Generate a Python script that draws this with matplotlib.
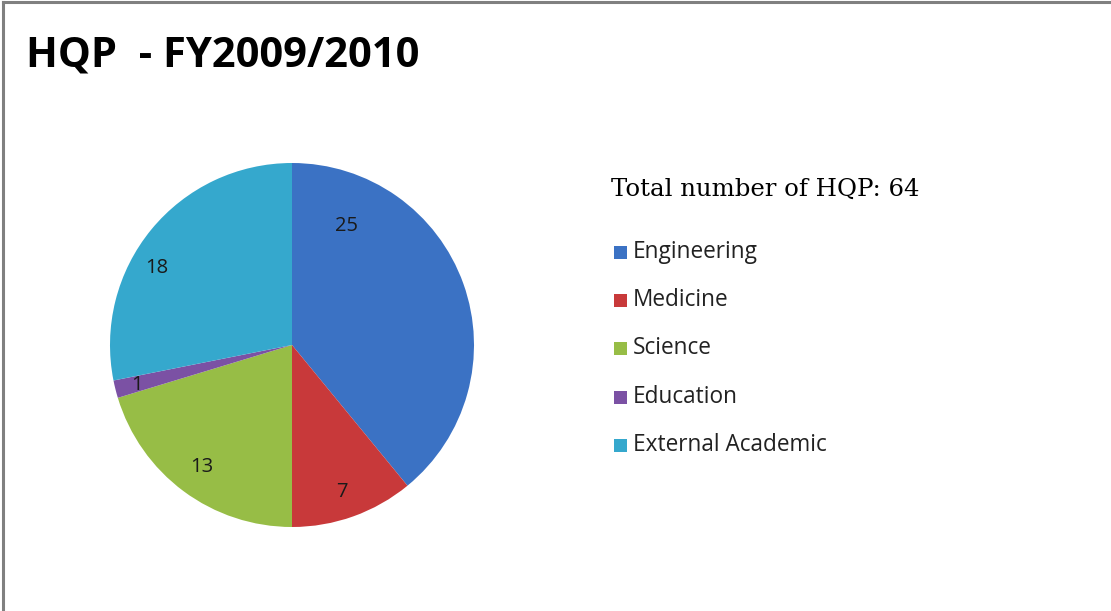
import matplotlib
matplotlib.use("Agg")
import matplotlib.pyplot as plt
from matplotlib.lines import Line2D
from matplotlib.patches import Rectangle

categories = ["Engineering", "Medicine", "Science", "Education", "External Academic"]
values = [25, 7, 13, 1, 18]
colors = ["#3b72c4", "#c8393a", "#97bd46", "#7b51a4", "#35a8cd"]
title = "HQP  - FY2009/2010"
total_text = "Total number of HQP: 64"

# label positions inside the pie (in pie-radius units), styling only
label_pos = [(0.297, 0.654), (0.275, -0.808), (-0.495, -0.670), (-0.852, -0.220), (-0.742, 0.423)]

W, H = 1111, 611
fig = plt.figure(figsize=(W / 100, H / 100), dpi=100)
fig.patch.set_facecolor("white")

# frame lines (top and left)
fig.add_artist(Line2D([2.5 / W, 2.5 / W], [0, 1 - 1.5 / H], color="#808080", lw=2.2, transform=fig.transFigure))
fig.add_artist(Line2D([2.5 / W, 1], [1 - 1.5 / H, 1 - 1.5 / H], color="#808080", lw=2.2, transform=fig.transFigure))

cx, cy, r = 292, 345, 182
ax = fig.add_axes([(cx - r) / W, (H - cy - r) / H, 2 * r / W, 2 * r / H])
ax.pie(values, colors=colors, startangle=90, counterclock=False, radius=1,
       wedgeprops=dict(linewidth=0, antialiased=True))
ax.set_xlim(-1, 1)
ax.set_ylim(-1, 1)
ax.set_aspect("auto")
ax.axis("off")
for v, (lx, ly) in zip(values, label_pos):
    ax.text(lx, ly, str(v), ha="center", va="center", fontsize=14.5, family="Open Sans", color="#1a1a1a")

fig.text(26 / W, 1 - 56 / H, title, fontsize=30, fontweight="bold", family="Open Sans",
         ha="left", va="center", color="black")

fig.text(611 / W, 1 - 189 / H, total_text, fontsize=17.6, family="DejaVu Serif",
         ha="left", va="center", color="black")

rows = [252, 300, 348, 397, 445]
for cat, col, ry in zip(categories, colors, rows):
    fig.add_artist(Rectangle((614 / W, 1 - (ry + 6.5) / H), 13 / W, 13 / H,
                             facecolor=col, edgecolor="none", transform=fig.transFigure))
    fig.text(633 / W, 1 - ry / H, cat, fontsize=16.3, family="Open Sans", ha="left", va="center", color="#222222")

fig.savefig("out.png", dpi=100, facecolor="white")
